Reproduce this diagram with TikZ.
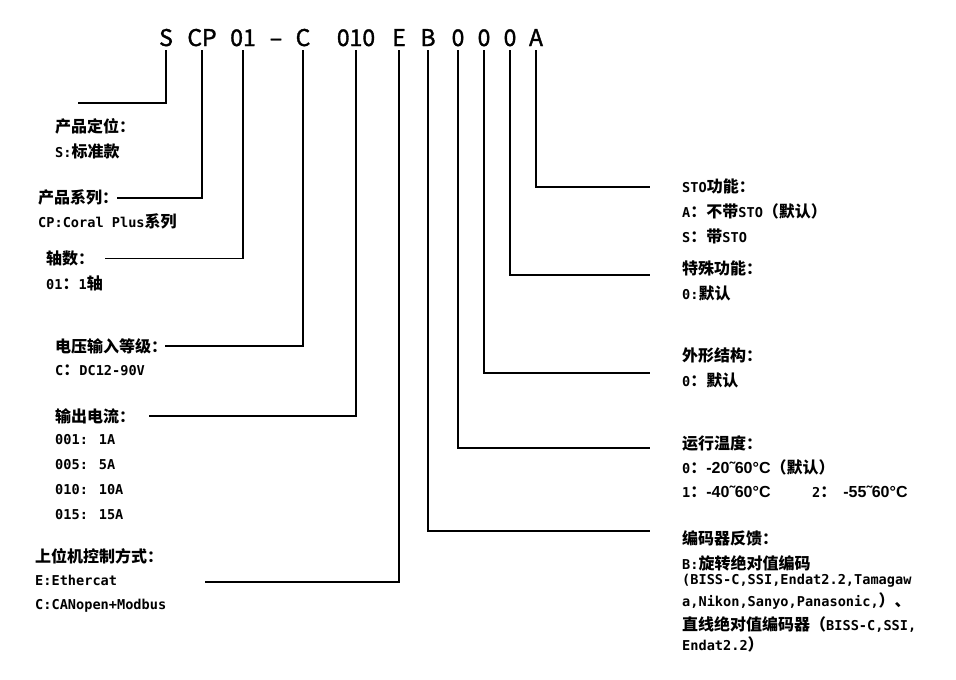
\documentclass[tikz,border=0pt]{standalone}
\usepackage{fontspec}
\setmainfont{Noto Sans CJK SC}
\newfontfamily\monofnt[Scale=0.85]{DejaVu Sans Mono}
\newfontfamily\degfnt{Liberation Sans}
\newfontfamily\codefnt[FakeBold=1.5]{Noto Sans CJK SC}
\newcommand\mn[1]{{\monofnt #1}}
\newcommand\dg[1]{{\degfnt #1}}

\tikzset{
  code/.style={font=\fontsize{23}{23}\codefnt, inner sep=0pt, anchor=base},
  lbl/.style={font=\fontsize{16}{16}\selectfont\bfseries, inner sep=0pt, anchor=west},
  lead/.style={line width=1.4pt, shorten <=4pt}
}

\begin{document}
\begin{tikzpicture}[x=1pt, y=-1pt]
    \useasboundingbox (0,0) rectangle (956,680);
    % code row
    \node[code] (cS) at (166,46) {S};
    \node[code] (cCP) at (202,46) {CP};
    \node[code] (c01) at (243,46) {01};
    \node[code] (cDash) at (276,46) {–};
    \node[code] (cC) at (303,46) {C};
    \node[code] (cI) at (356,46) {010};
    \node[code] (cE) at (399,46) {E};
    \node[code] (cB) at (428,46) {B};
    \node[code] (cT) at (458,46) {0};
    \node[code] (cF) at (484,46) {0};
    \node[code] (cX) at (510,46) {0};
    \node[code] (cA) at (536,46) {A};
    % free ends of the leads
    \coordinate (eS) at (78,103);
    \coordinate (eCP) at (117,198);
    \coordinate (e01) at (105,258.5);
    \coordinate (eC) at (165,346);
    \coordinate (eI) at (149,416);
    \coordinate (eE) at (205,582);
    \coordinate (eB) at (650,531);
    \coordinate (eT) at (650,448);
    \coordinate (eF) at (650,373);
    \coordinate (eX) at (650,275);
    \coordinate (eA) at (650,187);
    \draw[lead] (cS.south) |- (eS);
    \draw[lead] (cCP.south) |- (eCP);
    \draw[lead] (c01.south) |- (e01);
    \draw[lead] (cC.south) |- (eC);
    \draw[lead] (cI.south) |- (eI);
    \draw[lead] (cE.south) |- (eE);
    \draw[lead] (cB.south) |- (eB);
    \draw[lead] (cT.south) |- (eT);
    \draw[lead] (cF.south) |- (eF);
    \draw[lead] (cX.south) |- (eX);
    \draw[lead] (cA.south) |- (eA);
    % left labels
    \node[lbl] (sH) at (55,126) {产品定位：};
    \node[lbl] (s1) at (55,151) {\mn{S:}标准款};
    \node[lbl] (cpH) at (38,197) {产品系列：};
    \node[lbl] (cp1) at (38,221) {\mn{CP:Coral Plus}系列};
    \node[lbl] (axH) at (46,258) {轴数：};
    \node[lbl] (ax1) at (46,283) {\mn{01}：\mn{1}轴};
    \node[lbl] (vH) at (55,346) {电压输入等级：};
    \node[lbl] (v1) at (55,370) {\mn{C}：\mn{DC12-90V}};
    \node[lbl] (iH) at (55,416) {输出电流：};
    \node[lbl] (i1) at (55,440) {\mn{001: 1A}};
    \node[lbl] (i2) at (55,465) {\mn{005: 5A}};
    \node[lbl] (i3) at (55,490) {\mn{010: 10A}};
    \node[lbl] (i4) at (55,515) {\mn{015: 15A}};
    \node[lbl] (bH) at (35,556) {上位机控制方式：};
    \node[lbl] (b1) at (35,580) {\mn{E:Ethercat}};
    \node[lbl] (b2) at (35,606) {\mn{C:CANopen+Modbus}};
    % right labels
    \node[lbl] (aH) at (682,186) {\mn{STO}功能：};
    \node[lbl] (a1) at (682,211) {\mn{A}：不带\mn{STO}（默认）};
    \node[lbl] (a2) at (682,236) {\mn{S}：带\mn{STO}};
    \node[lbl] (xH) at (682,268) {特殊功能：};
    \node[lbl] (x1) at (682,293) {\mn{0:}默认};
    \node[lbl] (fH) at (682,355) {外形结构：};
    \node[lbl] (f1) at (682,380) {\mn{0}：默认};
    \node[lbl] (tH) at (682,443) {运行温度：};
    \node[lbl] (t1) at (682,467) {\mn{0}：\dg{-20˜60°C}（默认）};
    \node[lbl] (t2) at (682,492) {\mn{1}：\dg{-40˜60°C}};
    \node[lbl] (t3) at (812,492) {\mn{2}：\hspace{7pt}\dg{-55˜60°C}};
    \node[lbl] (eH) at (682,538) {编码器反馈：};
    \node[lbl] (e1) at (682,563) {\mn{B:}旋转绝对值编码};
    \node[lbl] (e2) at (682,581) {\mn{(BISS-C,SSI,Endat2.2,Tamagaw}};
    \node[lbl] (e3) at (682,601) {\mn{a,Nikon,Sanyo,Panasonic,}）、};
    \node[lbl] (e4) at (682,625) {直线绝对值编码器（\mn{BISS-C,SSI,}};
    \node[lbl] (e5) at (682,644) {\mn{Endat2.2}）};
\end{tikzpicture}
\end{document}
